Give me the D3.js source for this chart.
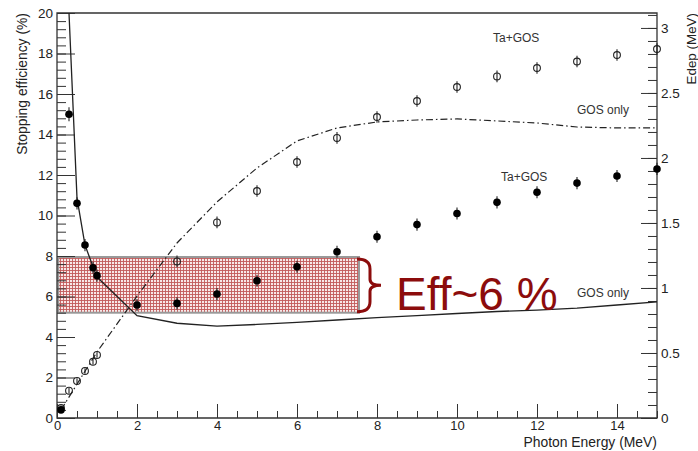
<!DOCTYPE html>
<html><head><meta charset="utf-8">
<script src="https://cdn.jsdelivr.net/npm/d3@7"></script>
<style>
body{margin:0;background:#fff}
svg{display:block;font-family:"Liberation Sans",Arial,Helvetica,sans-serif}
</style>
</head><body>
<svg id="c" width="698" height="451"></svg>
<script>
// ---- data ----
// Ta+GOS stopping efficiency (%) - filled markers, left axis
const effEnergy = [0.1, 0.3, 0.5, 0.7, 0.9, 1, 2, 3, 4, 5, 6, 7, 8, 9, 10, 11, 12, 13, 14, 15];
const effTaGOS  = [0.4, 15.0, 10.6, 8.54, 7.42, 7.03, 5.58, 5.66, 6.12, 6.78, 7.47, 8.21, 8.95, 9.55, 10.1, 10.65, 11.15, 11.6, 11.95, 12.3];
const effErr    = [0.1, 0.35, 0.3, 0.3, 0.3, 0.3, 0.3, 0.3, 0.3, 0.3, 0.3, 0.3, 0.3, 0.3, 0.3, 0.3, 0.3, 0.3, 0.3, 0.3];
// GOS only stopping efficiency (%) - solid line, left axis
const gosEffEnergy = [0.3, 0.5, 0.7, 0.9, 1, 2, 3, 4, 5, 6, 7, 8, 9, 10, 11, 12, 13, 14, 15];
const gosEff       = [20.0, 10.86, 8.54, 7.47, 6.96, 5.05, 4.68, 4.54, 4.62, 4.72, 4.84, 4.96, 5.06, 5.16, 5.26, 5.33, 5.43, 5.58, 5.73];
// Ta+GOS deposited energy (MeV) - open markers, right axis
const edepEnergy = [0.1, 0.3, 0.5, 0.7, 0.9, 1, 3, 4, 5, 6, 7, 8, 9, 10, 11, 12, 13, 14, 15];
const edepTaGOS  = [0.077, 0.21, 0.285, 0.362, 0.433, 0.485, 1.204, 1.504, 1.746, 1.969, 2.154, 2.315, 2.438, 2.546, 2.627, 2.692, 2.742, 2.792, 2.838];
const edepErr    = [0.02, 0.02, 0.02, 0.02, 0.02, 0.02, 0.045, 0.045, 0.045, 0.045, 0.045, 0.045, 0.045, 0.045, 0.045, 0.045, 0.045, 0.045, 0.045];
// GOS only deposited energy (MeV) - dash-dot line, right axis
const gosEdepEnergy = [0.1, 1, 2, 3, 4, 5, 6, 7, 8, 9, 10, 11, 12, 13, 14, 15];
const gosEdep       = [0.062, 0.508, 0.938, 1.346, 1.662, 1.923, 2.131, 2.231, 2.277, 2.292, 2.3, 2.285, 2.269, 2.238, 2.231, 2.231];
// ticks
const xTicks = [0, 2, 4, 6, 8, 10, 12, 14];
const yLeftTicks = [0, 2, 4, 6, 8, 10, 12, 14, 16, 18, 20];
const yRightTicks = [0, 0.5, 1, 1.5, 2, 2.5, 3];
// highlighted band
const bandEnergy = [0.03, 7.55];
const bandEff = [5.2, 7.95];
const bandLabel = "Eff~6 %";
// labels
const xTitle = "Photon Energy (MeV)";
const yLeftTitle = "Stopping efficiency (%)";
const yRightTitle = "Edep (MeV)";
const seriesLabels = [
  {text: "Ta+GOS", e: 10.9, v: 2.893, axis: "R"},
  {text: "GOS only", e: 13.0, v: 2.336, axis: "R"},
  {text: "Ta+GOS", e: 11.1, v: 11.7, axis: "L"},
  {text: "GOS only", e: 13.0, v: 6.0, axis: "L"}
];

// ---- chart ----
const L = 57, R = 657, T = 13, B = 418;
const x = d3.scaleLinear().domain([0, 15]).range([L, R]);
const yL = d3.scaleLinear().domain([0, 20]).range([B, T]);
const yR = d3.scaleLinear().domain([0, 3.115]).range([B, T]);
const svg = d3.select("#c");
const ink = "#222";

// pattern for band
const defs = svg.append("defs");
const pat = defs.append("pattern").attr("id", "grid").attr("patternUnits", "userSpaceOnUse")
  .attr("width", 3).attr("height", 3);
pat.append("rect").attr("width", 3).attr("height", 3).attr("fill", "#f8e8e8");
pat.append("path").attr("d", "M0,0.5H3M0.5,0V3").attr("stroke", "#c25a5a").attr("stroke-width", 0.9);

// band
svg.append("rect")
  .attr("x", x(bandEnergy[0])).attr("y", yL(bandEff[1]))
  .attr("width", x(bandEnergy[1]) - x(bandEnergy[0]))
  .attr("height", yL(bandEff[0]) - yL(bandEff[1]))
  .attr("fill", "url(#grid)").attr("stroke", "#999").attr("stroke-width", 2);

// axes
function styleAxis(g) {
  g.select(".domain").remove();
  g.selectAll(".tick line").attr("stroke", "#333").attr("stroke-width", 1);
  g.selectAll(".tick text").attr("fill", ink).attr("font-size", 13.5)
    .attr("font-family", "'Liberation Sans',Arial,sans-serif");
}
// bottom
svg.append("g").attr("transform", `translate(0,${B})`)
  .call(d3.axisBottom(x).tickValues(d3.range(0, 15.01, 0.5)).tickSize(-7).tickFormat(""))
  .call(styleAxis);
svg.append("g").attr("transform", `translate(0,${B})`)
  .call(d3.axisBottom(x).tickValues(xTicks).tickSize(-14).tickPadding(3).tickFormat(d3.format("d")))
  .call(styleAxis)
  .call(g => g.selectAll(".tick text").attr("font-size", 13));
// left
svg.append("g").attr("transform", `translate(${L},0)`)
  .call(d3.axisLeft(yL).tickValues(d3.range(0, 20.01, 0.4)).tickSize(-9).tickFormat(""))
  .call(styleAxis);
svg.append("g").attr("transform", `translate(${L},0)`)
  .call(d3.axisLeft(yL).tickValues(yLeftTicks).tickSize(-18).tickPadding(4).tickFormat(d3.format("d")))
  .call(styleAxis);
// right
svg.append("g").attr("transform", `translate(${R},0)`)
  .call(d3.axisRight(yR).tickValues(d3.range(0, 3.111, 0.1)).tickSize(-9).tickFormat(""))
  .call(styleAxis);
svg.append("g").attr("transform", `translate(${R},0)`)
  .call(d3.axisRight(yR).tickValues(yRightTicks).tickSize(-16).tickPadding(4).tickFormat(d => String(d)))
  .call(styleAxis);

// frame
svg.append("path").attr("d", `M${L},${B}V${T}H${R}V${B}Z`)
  .attr("fill", "none").attr("stroke", "#333").attr("stroke-width", 1.3);

// titles
svg.append("text").attr("x", R).attr("y", 447).attr("text-anchor", "end")
  .attr("font-size", 13.9).attr("fill", ink).text(xTitle);
svg.append("text").attr("transform", `translate(27,${T}) rotate(-90)`).attr("text-anchor", "end")
  .attr("font-size", 13.9).attr("fill", ink).text(yLeftTitle);
svg.append("text").attr("transform", `translate(696,${T}) rotate(-90)`).attr("text-anchor", "end")
  .attr("font-size", 13.4).attr("fill", ink).text(yRightTitle);

// lines
const gosEffPts = gosEffEnergy.map((e, i) => [x(e), yL(gosEff[i])]);
svg.append("path").attr("d", d3.line()(gosEffPts))
  .attr("fill", "none").attr("stroke", ink).attr("stroke-width", 1.3);
const gosEdepPts = gosEdepEnergy.map((e, i) => [x(e), yR(gosEdep[i])]);
svg.append("path").attr("d", d3.line()(gosEdepPts))
  .attr("fill", "none").attr("stroke", ink).attr("stroke-width", 1.2)
  .attr("stroke-dasharray", "7,3,1.5,3");

// open markers (Edep)
const og = svg.append("g");
edepEnergy.forEach((e, i) => {
  og.append("line").attr("x1", x(e)).attr("x2", x(e))
    .attr("y1", yR(edepTaGOS[i] - edepErr[i])).attr("y2", yR(edepTaGOS[i] + edepErr[i]))
    .attr("stroke", ink).attr("stroke-width", 1.1);
  og.append("circle").attr("cx", x(e)).attr("cy", yR(edepTaGOS[i])).attr("r", 3.4)
    .attr("fill", "none").attr("stroke", ink).attr("stroke-width", 1.1);
});
// filled markers (efficiency)
const fg = svg.append("g");
effEnergy.forEach((e, i) => {
  fg.append("line").attr("x1", x(e)).attr("x2", x(e))
    .attr("y1", yL(effTaGOS[i] - effErr[i])).attr("y2", yL(effTaGOS[i] + effErr[i]))
    .attr("stroke", ink).attr("stroke-width", 1.1);
  fg.append("circle").attr("cx", x(e)).attr("cy", yL(effTaGOS[i])).attr("r", 3.8).attr("fill", "#000");
});

// series labels
seriesLabels.forEach(s => {
  const yy = s.axis === "R" ? yR(s.v) : yL(s.v);
  svg.append("text").attr("x", x(s.e)).attr("y", yy).attr("font-size", 12)
    .attr("fill", "#333").text(s.text);
});

// brace + annotation
const red = "#8c0c0c";
const bx = x(bandEnergy[1]), bt = yL(bandEff[1]) + 2, bb = yL(bandEff[0]) - 1, bm = (bt + bb) / 2;
svg.append("path")
  .attr("d", `M${bx - 2},${bt} Q${bx + 11},${bt} ${bx + 11},${bt + 10} L${bx + 11},${bm - 6} Q${bx + 11},${bm} ${bx + 22},${bm} Q${bx + 11},${bm} ${bx + 11},${bm + 6} L${bx + 11},${bb - 10} Q${bx + 11},${bb} ${bx - 2},${bb}`)
  .attr("fill", "none").attr("stroke", red).attr("stroke-width", 3);
svg.append("text").attr("x", bx + 37).attr("y", yL(bandEff[0]) - 3)
  .attr("font-size", 46).attr("fill", red).text(bandLabel);
</script>
</body></html>
